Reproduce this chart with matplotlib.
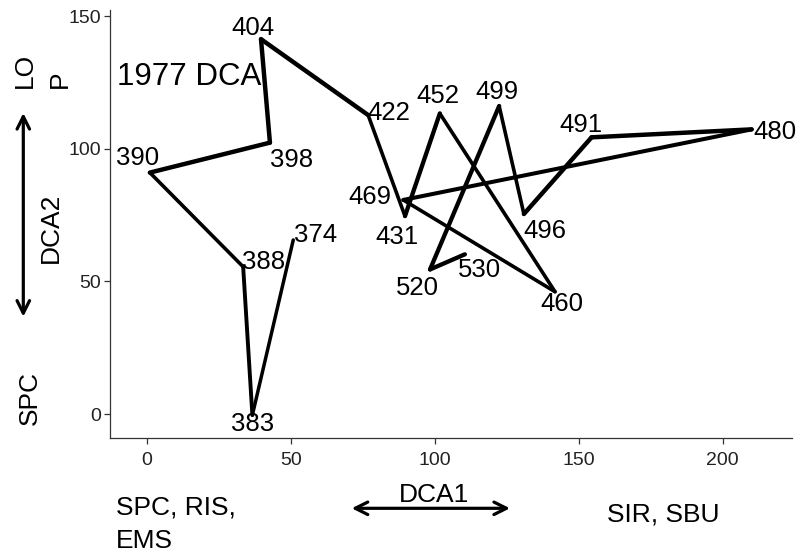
import numpy as np
import matplotlib
matplotlib.use("Agg")
import matplotlib.pyplot as plt
from matplotlib.collections import LineCollection

plt.rcParams['font.family'] = ['Liberation Sans', 'DejaVu Sans']

# DCA site scores, in sample order
samples = ['374', '383', '388', '390', '398', '404', '422', '431', '452',
           '460', '469', '480', '491', '496', '499', '520', '530']
dca1 = [50.9, 36.7, 33.5, 1.1, 42.8, 39.7, 76.9, 89.7, 101.8,
        141.8, 89.1, 210.1, 154.5, 131.0, 122.4, 98.4, 110.5]
dca2 = [65.6, -0.4, 55.5, 91.0, 102.3, 141.3, 112.7, 74.6, 113.3,
        46.1, 80.7, 107.3, 104.3, 75.4, 116.1, 54.5, 60.2]

# layout: segment widths (pt) and label offsets (pixels, to text baseline)
seg_widths = [2.5, 2.8, 2.6, 3.2, 3.2, 3.2, 2.6, 3.1, 2.6,
              2.6, 2.9, 3.2, 3.2, 2.6, 3.1, 3.1]
label_offsets = [(22, -2), (0, -16), (20, -2), (-12, 8), (22, -24), (-8, 4),
                 (21, -5), (-8, -28), (-2, 10), (7, -19), (-33, -4), (23, -10),
                 (-11, 5), (21, -24), (-2, 7), (-13, -26), (15, -23)]

W, H = 798, 555
fig = plt.figure(figsize=(W / 100, H / 100), dpi=100)
ax = fig.add_axes([110 / W, 1 - 437.7 / H, (792 - 110) / W, (437.7 - 10) / H])

pts = np.column_stack([dca1, dca2])
segs = np.stack([pts[:-1], pts[1:]], axis=1)
lc = LineCollection(segs, linewidths=seg_widths, colors='black', capstyle='round',
                    joinstyle='miter')
ax.add_collection(lc)

for name, x, y, off in zip(samples, dca1, dca2, label_offsets):
    ax.annotate(name, (x, y), xytext=off, textcoords='offset pixels',
                ha='center', va='baseline', fontsize=18.5, color='black')

ax.text(-10.3, 124.0, '1977 DCA', fontsize=22.5, ha='left', va='baseline')

ax.set_xlim(-12.74, 224.1)
ax.set_ylim(-8.93, 152.3)
ax.set_xticks([0, 50, 100, 150, 200])
ax.set_yticks([0, 50, 100, 150])
for s in ['top', 'right']:
    ax.spines[s].set_visible(False)
for s in ['left', 'bottom']:
    ax.spines[s].set_color('#333333')
    ax.spines[s].set_linewidth(0.9)
ax.tick_params(length=4, width=0.9, color='#333333', labelsize=14,
               labelcolor='#222222')
ax.tick_params(axis='x', pad=6)
ax.tick_params(axis='y', pad=2.5)


def fpx(x, y):
    return x / W, 1 - y / H


# outer annotations (figure pixel positions, baseline anchors)
tkw = dict(fontsize=19, color='black', rotation_mode='anchor')
fig.text(*fpx(31.7, 88.3), 'LO', rotation=90, ha='left', va='baseline', **tkw)
fig.text(*fpx(67, 88), 'P', rotation=90, ha='left', va='baseline', **tkw)
fig.text(*fpx(58.3, 263.3), 'DCA2', rotation=90, ha='left', va='baseline', **tkw)
fig.text(*fpx(37.3, 425), 'SPC', rotation=90, ha='left', va='baseline', **tkw)
fig.text(*fpx(116, 515), 'SPC, RIS,', ha='left', va='baseline', **tkw)
fig.text(*fpx(116, 548.3), 'EMS', ha='left', va='baseline', **tkw)
fig.text(*fpx(399.3, 501.7), 'DCA1', ha='left', va='baseline', **tkw)
fig.text(*fpx(606.7, 521.7), 'SIR, SBU', ha='left', va='baseline', **tkw)

akw = dict(arrowstyle='<->,head_length=0.5,head_width=0.25', lw=2.3, color='black',
           shrinkA=0, shrinkB=0, mutation_scale=18)
fig.add_artist(matplotlib.patches.FancyArrowPatch(
    fpx(23.3, 113), fpx(23.3, 316.7), transform=fig.transFigure, **akw))
fig.add_artist(matplotlib.patches.FancyArrowPatch(
    fpx(351.7, 508.3), fpx(510, 508.3), transform=fig.transFigure, **akw))

fig.savefig('out.png', dpi=100)
